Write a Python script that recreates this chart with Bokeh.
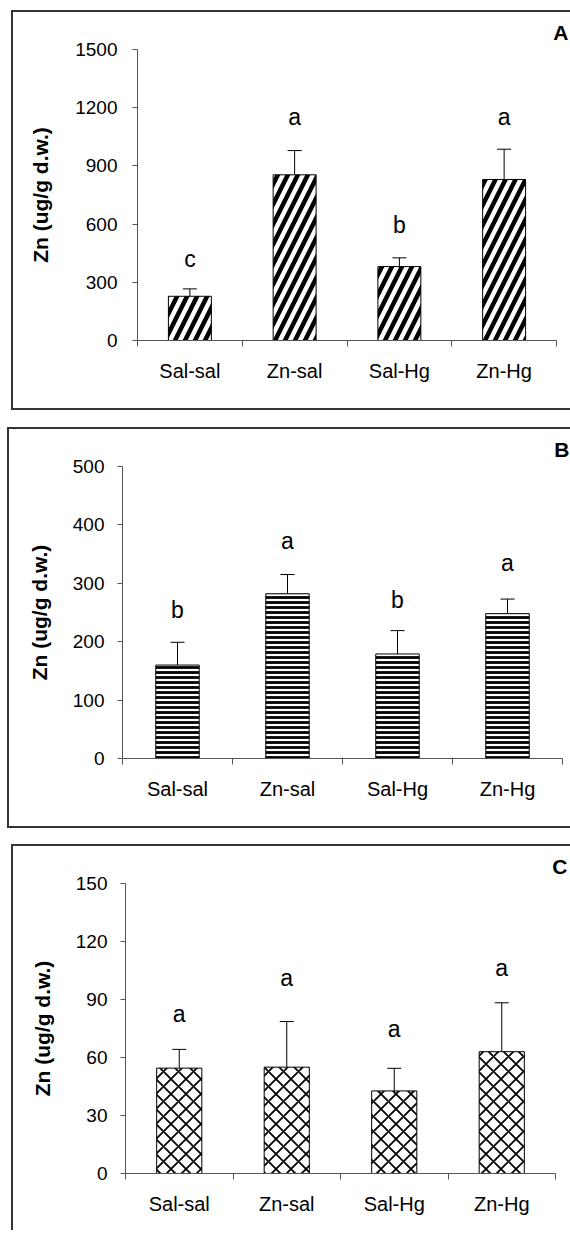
from bokeh.plotting import figure
from bokeh.models import ColumnDataSource, FixedTicker, Range1d, Whisker, TeeHead, Title
from bokeh.layouts import column
from bokeh.embed import file_html
from bokeh.resources import INLINE
from bokeh.core.properties import value

CATEGORIES = ["Sal-sal", "Zn-sal", "Sal-Hg", "Zn-Hg"]
Y_TITLE = "Zn (ug/g d.w.)"

# Panel A
ZN_A = [228, 854, 381, 830]
SD_A = [38, 125, 45, 156]
LETTERS_A = ["c", "a", "b", "a"]
LETTER_Y_A = [421, 1151, 597, 1151]
TICKS_A = [0, 300, 600, 900, 1200, 1500]

# Panel B
ZN_B = [160, 282, 179, 248]
SD_B = [39, 33, 40, 25]
LETTERS_B = ["b", "a", "b", "a"]
LETTER_Y_B = [254, 373, 271, 335]
TICKS_B = [0, 100, 200, 300, 400, 500]

# Panel C
ZN_C = [54.5, 55, 42.7, 63]
SD_C = [9.7, 23.6, 11.7, 25.3]
LETTERS_C = ["a", "a", "a", "a"]
LETTER_Y_C = [82.3, 101.3, 74.6, 106.4]
TICKS_C = [0, 30, 60, 90, 120, 150]

FONT = "Liberation Sans"
AX = "#555555"
EDGE = "2px solid #333333"


def make_panel(means, sds, letters, letter_y, ticks, tag, tag_offset, bar_width, hatch,
               size, borders, tick_standoff, title_standoff):
    n = len(CATEGORIES)
    xs = [i + 0.5 for i in range(n)]
    upper = [m + s for m, s in zip(means, sds)]
    src = ColumnDataSource(dict(x=xs, mean=means, upper=upper, letter=letters, ly=letter_y))
    bl, br, bt, bb = borders
    p = figure(width=size[0], height=size[1], x_range=Range1d(0, n),
               y_range=Range1d(ticks[0], ticks[-1]),
               output_backend="svg", toolbar_location=None,
               min_border_left=bl, min_border_right=br, min_border_top=bt, min_border_bottom=bb,
               background_fill_color="white", border_fill_color="white",
               outline_line_color=None, margin=(0, 0, 0, 0))
    p.grid.visible = False

    p.vbar(x="x", top="mean", bottom=0, width=bar_width, source=src,
           fill_color="white", line_color="black", line_width=1,
           hatch_color="black", **hatch)
    p.add_layout(Whisker(source=src, base="x", upper="upper", lower="mean",
                         dimension="height", line_color="black", line_width=1,
                         upper_head=TeeHead(size=14, line_color="black", line_width=1),
                         lower_head=None))
    p.text(x="x", y="ly", text="letter", source=src, text_align="center",
           text_baseline="alphabetic", text_font=value(FONT),
           text_font_size=value("23px"), text_color="black")

    p.add_layout(Title(text=tag, align="right", offset=tag_offset, standoff=11,
                       text_font=FONT, text_font_size="21px", text_font_style="bold",
                       text_color="black"), "above")

    ya = p.yaxis[0]
    ya.ticker = FixedTicker(ticks=ticks)
    ya.major_tick_out = 5
    ya.major_tick_in = 0
    ya.minor_tick_out = 0
    ya.minor_tick_in = 0
    ya.axis_line_color = AX
    ya.major_tick_line_color = AX
    ya.major_label_text_font = FONT
    ya.major_label_text_font_size = "19px"
    ya.major_label_text_color = "black"
    ya.major_label_standoff = tick_standoff
    ya.axis_label = Y_TITLE
    ya.axis_label_text_font = FONT
    ya.axis_label_text_font_style = "bold"
    ya.axis_label_text_font_size = "21px"
    ya.axis_label_text_color = "black"
    ya.axis_label_standoff = title_standoff

    xa = p.xaxis[0]
    xa.ticker = FixedTicker(ticks=xs, minor_ticks=list(range(n + 1)))
    xa.major_label_overrides = {x: c for x, c in zip(xs, CATEGORIES)}
    xa.major_tick_out = 0
    xa.major_tick_in = 0
    xa.minor_tick_out = 6
    xa.minor_tick_in = 0
    xa.axis_line_color = AX
    xa.minor_tick_line_color = AX
    xa.major_label_text_font = FONT
    xa.major_label_text_font_size = "20px"
    xa.major_label_text_color = "black"
    xa.major_label_standoff = 13
    return p


def boxed(p, margin, sides):
    css = {f"border-{s}": EDGE for s in sides}
    return column(p, spacing=0, margin=margin, styles=css)


pA = make_panel(ZN_A, SD_A, LETTERS_A, LETTER_Y_A, TICKS_A, "A", -12, 0.41,
                dict(hatch_pattern="right_diagonal_line", hatch_scale=20, hatch_weight=4.5),
                (557, 396), (124, 14, 37, 68), 15, 20)
pB = make_panel(ZN_B, SD_B, LETTERS_B, LETTER_Y_B, TICKS_B, "B", -7, 0.395,
                dict(hatch_pattern="horizontal_line", hatch_scale=5, hatch_weight=2.8),
                (561, 397), (113, 8, 37, 68), 13, 19)
pC = make_panel(ZN_C, SD_C, LETTERS_C, LETTER_Y_C, TICKS_C, "C", -12, 0.42,
                dict(hatch_pattern="diagonal_cross", hatch_scale=15, hatch_weight=1.8),
                (557, 384), (112, 15, 37, 57), 13, 19)

layout = column(
    boxed(pA, (10, 0, 0, 11), ("left", "top", "bottom")),
    boxed(pB, (17, 0, 0, 7), ("left", "top", "bottom")),
    boxed(pC, (16, 0, 0, 11), ("left", "top")),
    spacing=0,
)
open("out.html", "w").write(file_html(layout, INLINE))
